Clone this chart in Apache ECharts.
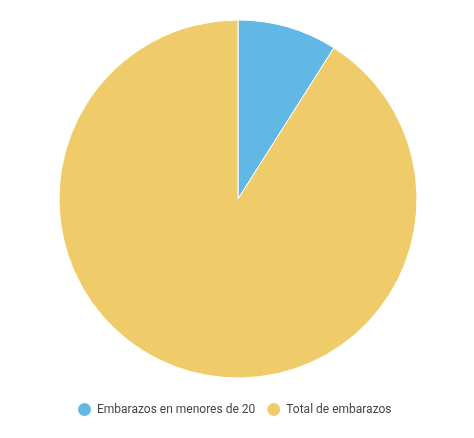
<!DOCTYPE html>
<html><head><meta charset="utf-8">
<script src="https://cdn.jsdelivr.net/npm/echarts@6/dist/echarts.min.js"></script>
<style>html,body{margin:0;padding:0;background:#fff}#c{width:474px;height:438px}</style>
</head><body><div id="c"></div>
<script>
const categories = ['Embarazos en menores de 20', 'Total de embarazos'];
const values = [90, 910];
const colors = ['#62B8E5', '#EFCB6A'];
const chart = echarts.init(document.getElementById('c'));
chart.setOption({
  animation: false,
  color: colors,
  legend: {
    data: categories,
    top: 396,
    left: 71,
    icon: 'circle',
    itemWidth: 15, itemHeight: 15, itemGap: 10,
    textStyle: { color: '#444', fontSize: 12, fontFamily: 'Roboto' }
  },
  series: [{
    type: 'pie',
    center: [238, 199],
    radius: 179,
    startAngle: 90,
    clockwise: true,
    label: { show: false },
    labelLine: { show: false },
    itemStyle: { borderColor: '#fff', borderWidth: 1 },
    data: categories.map((n, i) => ({ name: n, value: values[i] }))
  }]
});
</script></body></html>
